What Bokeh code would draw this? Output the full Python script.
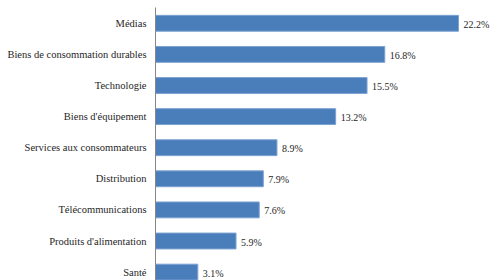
from bokeh.plotting import figure
from bokeh.models import Range1d, FixedTicker, ColumnDataSource, LabelSet
from bokeh.embed import file_html
from bokeh.resources import INLINE

categories = ["Médias", "Biens de consommation durables", "Technologie", "Biens d'équipement",
              "Services aux consommateurs", "Distribution", "Télécommunications",
              "Produits d'alimentation", "Santé"]
values = [22.2, 16.8, 15.5, 13.2, 8.9, 7.9, 7.6, 5.9, 3.1]
value_labels = [f"{v:.1f}%" for v in values]

ypos = list(range(len(categories)))
src = ColumnDataSource(dict(y=ypos, v=values, lab=value_labels, cat=categories))

FONT = "Liberation Sans Narrow"

p = figure(width=491, height=280, output_backend="svg", toolbar_location=None,
           x_range=Range1d(0, 24.62), y_range=Range1d(8.27, -0.508),
           min_border_left=155, min_border_right=0, min_border_top=7, min_border_bottom=0)
p.hbar(y="y", right="v", left=0, height=0.51, source=src,
       fill_color="#4A7EBB", line_color="#7DA2D2", line_width=1)

labels = LabelSet(x="v", y="y", text="lab", source=src, x_offset=5, y_offset=-1,
                  text_font=FONT, text_font_size="10px", text_color="#262626",
                  text_baseline="middle", text_align="left")
p.add_layout(labels)

p.xaxis.visible = False
p.xgrid.visible = False
p.ygrid.visible = False
p.outline_line_color = None

ya = p.yaxis[0]
ya.ticker = FixedTicker(ticks=ypos)
ya.major_label_overrides = {i: c for i, c in zip(ypos, categories)}
ya.major_tick_line_color = None
ya.minor_tick_line_color = None
ya.major_tick_out = 0
ya.major_tick_in = 0
ya.major_label_standoff = 9
ya.axis_line_color = "#868686"
ya.axis_line_width = 1
ya.major_label_text_font = FONT
ya.major_label_text_font_size = "10.5px"
ya.major_label_text_color = "#262626"

open("out.html", "w").write(file_html(p, INLINE))
